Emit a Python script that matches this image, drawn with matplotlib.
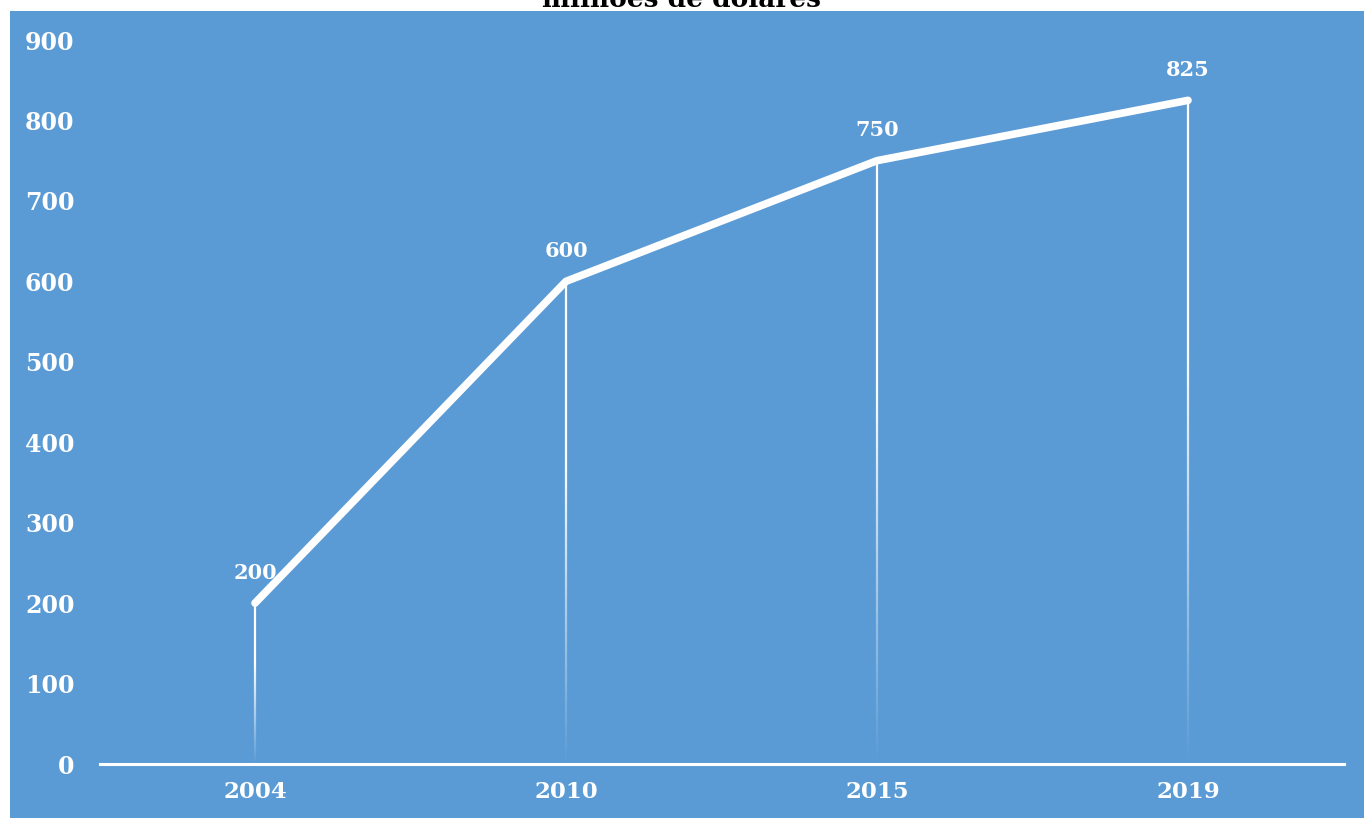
import numpy as np
import matplotlib.pyplot as plt
from matplotlib.collections import LineCollection
from matplotlib.patches import Rectangle

# Valores em milhões de dólares
anos = ["2004", "2010", "2015", "2019"]
valores = [200, 600, 750, 825]
yticks = [0, 100, 200, 300, 400, 500, 600, 700, 800, 900]

azul = "#5B9BD5"
fonte = "DejaVu Serif"

fig = plt.figure(figsize=(13.64, 8.18), dpi=100)
fig.patch.set_facecolor("white")
# fundo azul do gráfico
fig.patches.append(Rectangle((10 / 1364, 0), 1 - 10 / 1364, 1 - 11 / 818,
                             transform=fig.transFigure, facecolor=azul,
                             edgecolor="none", zorder=-5))

fig.text(0.5, 1 - 7 / 818, "milhões de dólares", ha="center", va="baseline",
         fontsize=19, fontweight="bold", family=fonte, color="black")

ax = fig.add_axes([99.5 / 1364, (818 - 764) / 818, 1244 / 1364, 724 / 818])
ax.set_zorder(2)
ax.set_facecolor("none")
x = np.arange(len(anos))

# linhas verticais com degradê até o eixo
for xi, v in zip(x, valores):
    ys = np.linspace(0, v, 120)
    segs = [[(xi, ys[i]), (xi, ys[i + 1])] for i in range(len(ys) - 1)]
    t = (ys[:-1] / v)
    alphas = np.clip(t * 1.6, 0, 1)
    cores = [(1, 1, 1, a) for a in alphas]
    ax.add_collection(LineCollection(segs, colors=cores, linewidths=1.6, zorder=2))

ax.plot(x, valores, color="white", linewidth=5.5, solid_capstyle="round",
        solid_joinstyle="round", zorder=3)

for xi, v in zip(x, valores):
    ax.annotate(str(v), (xi, v), xytext=(0, 22), textcoords="offset points",
                ha="center", va="center", color="white", fontsize=15,
                fontweight="bold", family=fonte)

ax.set_xlim(-0.5, len(anos) - 0.5)
ax.set_ylim(0, 900)
ax.set_xticks(x)
ax.set_xticklabels(anos)
ax.set_yticks(yticks)
for s in ["top", "right", "left"]:
    ax.spines[s].set_visible(False)
ax.spines["bottom"].set_color("white")
ax.spines["bottom"].set_linewidth(2.2)
ax.tick_params(length=0)
ax.tick_params(axis="y", pad=18)
ax.tick_params(axis="x", pad=12)
for lab in ax.get_yticklabels():
    lab.set(color="white", fontsize=17, fontweight="bold", family=fonte)
for lab in ax.get_xticklabels():
    lab.set(color="white", fontsize=16.5, fontweight="bold", family=fonte)

fig.savefig("out.png", dpi=100)
